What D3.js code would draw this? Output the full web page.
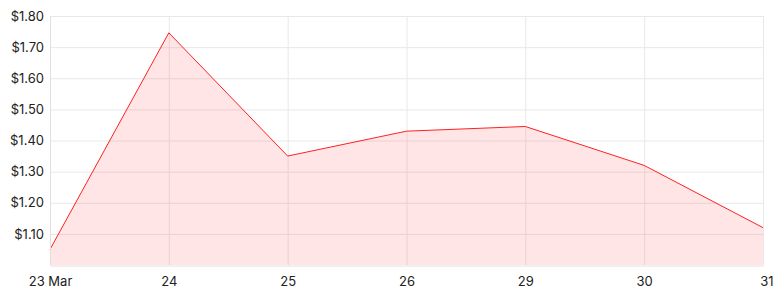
<!DOCTYPE html>
<html>
<head>
<meta charset="utf-8">
<script src="https://cdn.jsdelivr.net/npm/d3@7"></script>
<style>
  body { margin: 0; background: #fff; }
  text { font-family: "Inter", "Noto Sans", sans-serif; fill: #222; }
</style>
</head>
<body>
<div id="chart"></div>
<script>
// chart data
const dates = ["23 Mar", "24", "25", "26", "29", "30", "31"];
const prices = [1.05, 1.746, 1.35, 1.43, 1.445, 1.32, 1.12];
const yTicks = [1.10, 1.20, 1.30, 1.40, 1.50, 1.60, 1.70, 1.80];

const width = 773, height = 294;
const margin = {top: 16, right: 10, bottom: 29, left: 50};

const svg = d3.select("#chart").append("svg")
    .attr("width", width)
    .attr("height", height);

const xScale = d3.scalePoint()
  .domain(dates)
  .range([margin.left, width - margin.right]);

const yScale = d3.scaleLinear()
  .domain([1.0, 1.8])
  .range([height - margin.bottom, margin.top]);

// horizontal grid
svg.append("g")
  .selectAll("line")
  .data(yTicks)
  .join("line")
    .attr("x1", margin.left)
    .attr("x2", width - margin.right)
    .attr("y1", d => yScale(d) + 0.5)
    .attr("y2", d => yScale(d) + 0.5)
    .attr("stroke", "#e8e8e8");

// vertical grid
svg.append("g")
  .selectAll("line")
  .data(dates)
  .join("line")
    .attr("x1", d => xScale(d) + 0.5)
    .attr("x2", d => xScale(d) + 0.5)
    .attr("y1", margin.top)
    .attr("y2", height - margin.bottom)
    .attr("stroke", "#e8e8e8");

const pts = dates.map((d, i) => [d, prices[i]]);

// area
svg.append("path")
  .datum(pts)
  .attr("fill", "rgba(255,0,0,0.1)")
  .attr("d", d3.area()
    .x(d => xScale(d[0]))
    .y0(yScale(1.0))
    .y1(d => yScale(d[1])));

// line
svg.append("path")
  .datum(pts)
  .attr("fill", "none")
  .attr("stroke", "#ff2020")
  .attr("stroke-width", 1)
  .attr("d", d3.line()
    .x(d => xScale(d[0]))
    .y(d => yScale(d[1])));

// y axis
const yAxis = d3.axisLeft(yScale)
  .tickValues(yTicks)
  .tickFormat(d => "$" + d3.format(".2f")(d))
  .tickSize(0)
  .tickPadding(6);

svg.append("g")
  .attr("transform", `translate(${margin.left},0)`)
  .call(yAxis)
  .call(g => g.select(".domain").attr("stroke", "#e0e0e0"))
  .selectAll("text")
    .attr("font-size", 13);

// x axis
const xAxis = d3.axisBottom(xScale)
  .tickSize(0)
  .tickPadding(11);

const xg = svg.append("g")
  .attr("transform", `translate(0,${height - margin.bottom + 0.5})`)
  .call(xAxis)
  .call(g => g.select(".domain").attr("stroke", "#e0e0e0"));
xg.selectAll("text").attr("font-size", 13);
xg.selectAll(".tick:last-of-type text").attr("text-anchor", "end").attr("dx", 10);
</script>
</body>
</html>
